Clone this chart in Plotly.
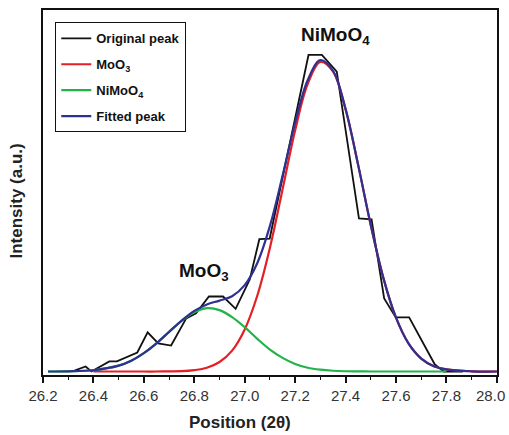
import plotly.graph_objects as go

# Measured XRD profile (2-theta vs intensity, arbitrary units)
orig_x = [26.325, 26.369, 26.392, 26.463, 26.493, 26.574, 26.615, 26.657, 26.708,
          26.768, 26.807, 26.858, 26.914, 26.964, 27.020, 27.058, 27.099, 27.253,
          27.306, 27.365, 27.453, 27.503, 27.553, 27.599, 27.652, 27.754, 27.790, 27.865]
orig_y = [0.3, 1.6, 0.0, 3.2, 3.2, 6.0, 12.4, 8.9, 8.2,
          16.8, 18.4, 23.7, 23.7, 19.8, 29.1, 41.8, 42.0, 100.0,
          100.0, 94.7, 48.4, 48.1, 23.1, 17.1, 17.1, 2.2, 0.0, 0.0]

# Fitted components sampled on a common 2-theta grid
fit_x = [26.22, 26.30, 26.40, 26.50, 26.55, 26.60, 26.65, 26.70, 26.75, 26.80,
         26.85, 26.90, 26.95, 27.00, 27.05, 27.10, 27.15, 27.20, 27.25, 27.30,
         27.35, 27.40, 27.45, 27.50, 27.55, 27.60, 27.65, 27.70, 27.75, 27.80,
         27.90, 28.00]
red_y = [None, None, 0.0, 0.0, 0.0, 0.0, 0.0, 0.04, 0.1, 0.44,
         1.2, 3.0, 6.6, 13.3, 24.0, 39.1, 57.5, 76.2, 90.9, 97.8,
         94.8, 82.8, 65.2, 46.2, 29.5, 17.0, 8.8, 4.1, 1.7, 0.66,
         0.07, 0.0]
green_y = [0.01, 0.06, 0.41, 1.85, 3.4, 5.8, 8.9, 12.5, 16.0, 18.7,
           20.0, 19.4, 17.2, 14.0, 10.3, 6.9, 4.3, 2.4, 1.2, 0.57,
           0.24, 0.09, 0.03, 0.01, 0.0, 0.0, 0.0, 0.0, 0.0, 0.0,
           None, None]
fit_sum_y = [0.01, 0.06, 0.41, 1.85, 3.4, 5.8, 8.9, 12.54, 16.1, 19.14,
             21.2, 22.4, 23.8, 27.3, 34.3, 46.0, 61.8, 78.6, 92.1, 98.4,
             95.0, 82.9, 65.2, 46.2, 29.5, 17.0, 8.8, 4.1, 1.7, 0.66,
             0.07, 0.0]

series_names = ["Original peak", "MoO<sub>3</sub>", "NiMoO<sub>4</sub>", "Fitted peak"]
tick_vals = [26.2, 26.4, 26.6, 26.8, 27.0, 27.2, 27.4, 27.6, 27.8, 28.0]
# the last label is padded on the right so it stays inside the page edge
tick_text = ["26.2", "26.4", "26.6", "26.8", "27.0", "27.2", "27.4", "27.6", "27.8",
             "28.0\u00a0\u00a0\u00a0"]

FONT = "Liberation Sans, Arial, sans-serif"

fig = go.Figure()
fig.add_trace(go.Scatter(x=orig_x, y=orig_y, mode="lines", name=series_names[0],
                         legendgroup="a", line=dict(color="#111111", width=1.8)))
fig.add_trace(go.Scatter(x=fit_x, y=red_y, mode="lines", name=series_names[1],
                         legendgroup="b", line=dict(color="#e41f26", width=2.2, shape="spline")))
fig.add_trace(go.Scatter(x=fit_x, y=green_y, mode="lines", name=series_names[2],
                         legendgroup="c", line=dict(color="#22b34a", width=2.2, shape="spline")))
fig.add_trace(go.Scatter(x=fit_x, y=fit_sum_y, mode="lines", name=series_names[3],
                         legendgroup="d", line=dict(color="#2e3192", width=2.2, shape="spline")))

fig.update_layout(
    width=509, height=435,
    margin=dict(l=43, r=10, t=10, b=60),
    paper_bgcolor="white", plot_bgcolor="white",
    font=dict(family=FONT, color="#222222"),
    showlegend=True,
    legend=dict(x=0.027, y=0.966, xanchor="left", yanchor="top",
                bgcolor="white", bordercolor="#111111", borderwidth=1,
                font=dict(family=FONT, size=13, weight="bold", color="#111111"),
                traceorder="grouped", tracegroupgap=6, itemwidth=30),
    xaxis=dict(range=[26.2, 28.0005], tickvals=tick_vals, ticktext=tick_text,
               ticks="outside", ticklen=6, tickwidth=1.5, tickcolor="#111111",
               showline=True, linecolor="#111111", linewidth=1.5, mirror=True,
               showgrid=False, zeroline=False, automargin=False,
               ticklabeloverflow="allow",
               tickfont=dict(family=FONT, size=15, color="#333333"),
               minor=dict(ticks="outside", ticklen=3, tickwidth=1.2, dtick=0.1,
                          tickcolor="#111111", showgrid=False)),
    yaxis=dict(range=[-1.1, 114.2], showticklabels=False, ticks="",
               showline=True, linecolor="#111111", linewidth=1.5, mirror=True,
               showgrid=False, zeroline=False),
)

fig.add_annotation(x=27.36, y=106, xref="x", yref="y", text="NiMoO<sub>4</sub>",
                   showarrow=False, font=dict(family=FONT, size=19, weight="bold", color="#111111"))
fig.add_annotation(x=26.84, y=31.4, xref="x", yref="y", text="MoO<sub>3</sub>",
                   showarrow=False, font=dict(family=FONT, size=19, weight="bold", color="#111111"))
fig.add_annotation(x=0.434, y=-0.1315, xref="paper", yref="paper", text="Position (2θ)",
                   showarrow=False, yanchor="middle",
                   font=dict(family=FONT, size=17, weight="bold", color="#222222"))
fig.add_annotation(x=-0.058, y=0.477, xref="paper", yref="paper", text="Intensity (a.u.)",
                   showarrow=False, textangle=-90, xanchor="center", yanchor="middle",
                   font=dict(family=FONT, size=17, weight="bold", color="#222222"))

fig.write_html("out.html")
